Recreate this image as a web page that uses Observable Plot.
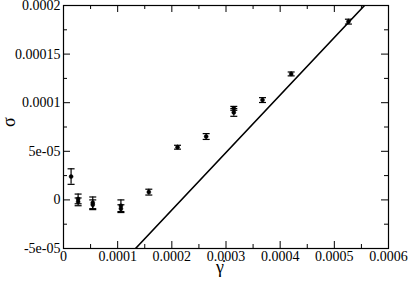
<!DOCTYPE html>
<html>
<head>
<meta charset="utf-8">
<script src="https://cdn.jsdelivr.net/npm/d3@7"></script>
<script src="https://cdn.jsdelivr.net/npm/@observablehq/plot@0.6"></script>
<style>
  html, body { margin: 0; padding: 0; background: #fff; }
  svg { display: block; }
  svg text { font-family: "Liberation Serif", "DejaVu Serif", "Times New Roman", serif !important; }
</style>
</head>
<body>
<div id="chart"></div>
<script>
// ---- data ----
const shearRate = [1.4e-5, 2.7e-5, 2.7e-5, 5.4e-5, 5.4e-5, 1.06e-4, 1.06e-4, 1.575e-4, 2.105e-4, 2.634e-4, 3.144e-4, 3.144e-4, 3.674e-4, 4.203e-4, 5.26e-4];
const stress    = [2.4e-5, 1.0e-6, -2.0e-6, -3.0e-6, -5.0e-6, -6.0e-6, -9.0e-6, 8.0e-6, 5.42e-5, 6.52e-5, 9.42e-5, 9.0e-5, 1.027e-4, 1.296e-4, 1.834e-4];
const stressErr = [8e-6, 5e-6, 4e-6, 6e-6, 5e-6, 6e-6, 4e-6, 3e-6, 2e-6, 3e-6, 2e-6, 4e-6, 2.5e-6, 2e-6, 2.5e-6];

const fitX = [1.33e-4, 5.557e-4];
const fitY = [-5e-5, 2e-4];

const xTicks = [0, 0.0001, 0.0002, 0.0003, 0.0004, 0.0005, 0.0006];
const xTickLabels = ["0", "0.0001", "0.0002", "0.0003", "0.0004", "0.0005", "0.0006"];
const xMinor = [0.00005, 0.00015, 0.00025, 0.00035, 0.00045, 0.00055];
const yTicks = [-5e-5, 0, 5e-5, 1e-4, 1.5e-4, 2e-4];
const yTickLabels = ["-5e-05", "0", "5e-05", "0.0001", "0.00015", "0.0002"];
const yMinor = [-2.5e-5, 2.5e-5, 7.5e-5, 1.25e-4, 1.75e-4];

const xLabel = "\u03B3\u0307";
const yLabel = "\u03C3";

const points = shearRate.map((x, i) => ({x, y: stress[i], e: stressErr[i]}));
const fit = fitX.map((x, i) => ({x, y: fitY[i]}));

const W = 409, H = 284;
const mL = 63, mR = 21, mT = 5, mB = 36;
const ph = H - mT - mB, pw = W - mL - mR;
const major = 7, minor = 4;
const serif = "Liberation Serif, DejaVu Serif, serif";

const cap = { draw(ctx, size) { const w = Math.sqrt(size / Math.PI); ctx.moveTo(-w, 0); ctx.lineTo(w, 0); } };

const chart = Plot.plot({
  width: W, height: H,
  marginLeft: mL, marginRight: mR, marginTop: mT, marginBottom: mB,
  style: "font-family: 'Liberation Serif', 'DejaVu Serif', serif; font-size: 14px; background: #fff; color: #000; overflow: visible;",
  x: { domain: [0, 0.0006] },
  y: { domain: [-5e-5, 2e-4] },
  marks: [
    // fit line
    Plot.line(fit, { x: "x", y: "y", stroke: "black", strokeWidth: 1.6, clip: true }),
    // error bars
    Plot.ruleX(points, { x: "x", y1: d => d.y - d.e, y2: d => d.y + d.e, stroke: "black", strokeWidth: 1.2 }),
    Plot.dot(points, { x: "x", y: d => d.y - d.e, symbol: cap, r: 3.5, stroke: "black", strokeWidth: 1.2, fill: "none" }),
    Plot.dot(points, { x: "x", y: d => d.y + d.e, symbol: cap, r: 3.5, stroke: "black", strokeWidth: 1.2, fill: "none" }),
    Plot.dot(points, { x: "x", y: "y", r: 2, fill: "black", stroke: "black", strokeWidth: 0.5 }),
    // inward ticks on all sides
    Plot.tickX(xTicks, { x: d => d, insetTop: ph - major, stroke: "black" }),
    Plot.tickX(xTicks, { x: d => d, insetBottom: ph - major, stroke: "black" }),
    Plot.tickX(xMinor, { x: d => d, insetTop: ph - minor, stroke: "black" }),
    Plot.tickX(xMinor, { x: d => d, insetBottom: ph - minor, stroke: "black" }),
    Plot.tickY(yTicks, { y: d => d, insetRight: pw - major, stroke: "black" }),
    Plot.tickY(yTicks, { y: d => d, insetLeft: pw - major, stroke: "black" }),
    Plot.tickY(yMinor, { y: d => d, insetRight: pw - minor, stroke: "black" }),
    Plot.tickY(yMinor, { y: d => d, insetLeft: pw - minor, stroke: "black" }),
    Plot.frame({ stroke: "black", strokeWidth: 1.2 }),
    // tick labels
    Plot.axisX(xTicks, { tickSize: 0, tickPadding: 3, tickFormat: (d, i) => xTickLabels[i], label: null, fontSize: 14, fontFamily: serif }),
    Plot.axisY(yTicks, { tickSize: 0, tickPadding: 3, tickFormat: (d, i) => yTickLabels[i], label: null, fontSize: 14, fontFamily: serif }),
    // axis titles
    Plot.text([xLabel], { frameAnchor: "bottom", text: d => d, dx: -6, dy: 24, fontSize: 18, fontFamily: serif }),
    Plot.text([yLabel], { frameAnchor: "left", text: d => d, dx: -54, rotate: -90, fontSize: 18, fontFamily: serif })
  ]
});

document.getElementById("chart").appendChild(chart);
</script>
</body>
</html>
